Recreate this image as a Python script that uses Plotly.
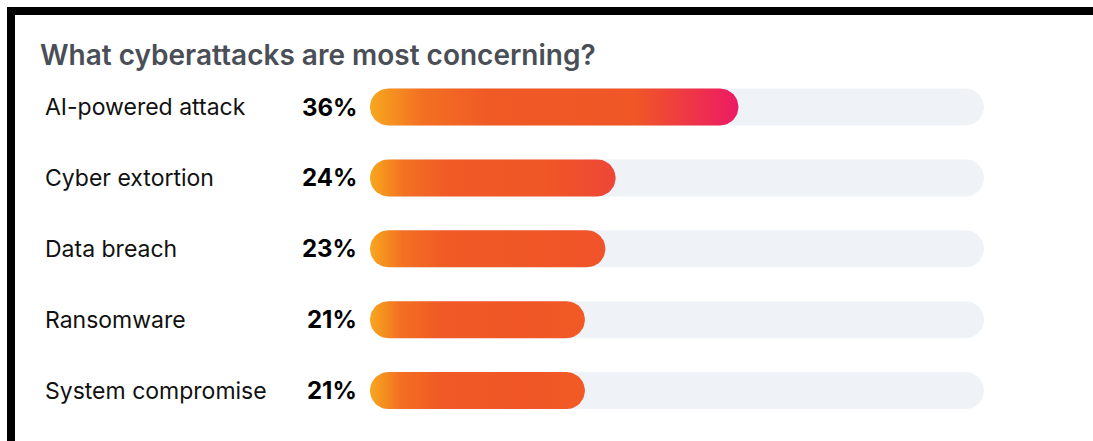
import numpy as np
import plotly.graph_objects as go

# ---- data ----
title_text = "What cyberattacks are most concerning?"
categories = ["AI-powered attack", "Cyber extortion", "Data breach", "Ransomware", "System compromise"]
values = [36, 24, 23, 21, 21]
track_max = 60

# ---- style ----
W, H = 1093, 441
x0_px, x1_px = 370, 984            # pixel span of the track (0 .. track_max)
row0_px, row_step_px = 107, 70.9   # pixel centre of first row, row spacing
bar_h_px = 37
kx = (x1_px - x0_px) / track_max    # px per %
ky = row_step_px                    # px per row
x_range = [-x0_px / kx, (W - x0_px) / kx]
y_range = [(H - row0_px) / ky, -row0_px / ky]

end_colors = ["#ED1A64", "#EE4638", "#F0532A", "#F15A25", "#F15A25"]
track_color = "#EFF2F7"


def pill(v, yc, n=24):
    """pill outline from 0..v (data units) centred on row yc"""
    r = bar_h_px / 2
    rx, ry = r / kx, r / ky
    left_c, right_c = rx, v - rx
    t = np.linspace(-np.pi / 2, np.pi / 2, n)
    xs_r = right_c + rx * np.cos(t)
    ys_r = yc - ry * np.sin(t)
    t2 = np.linspace(np.pi / 2, 3 * np.pi / 2, n)
    xs_l = left_c + rx * np.cos(t2)
    ys_l = yc - ry * np.sin(t2)
    xs = np.concatenate([xs_r, xs_l, xs_r[:1]])
    ys = np.concatenate([ys_r, ys_l, ys_r[:1]])
    return xs, ys


fig = go.Figure()
for i, (cat, v) in enumerate(zip(categories, values)):
    tx, ty = pill(track_max, i)
    fig.add_trace(go.Scatter(x=tx, y=ty, mode="lines", fill="toself",
                             fillcolor=track_color, line=dict(width=0, color=track_color),
                             hoverinfo="skip", showlegend=False))
    bx, by = pill(v, i)
    cs = [[0, "#F8A71E"], [0.14, "#F37022"], [0.32, "#F05A25"],
          [0.72, "#F05626"], [1, end_colors[i]]]
    fig.add_trace(go.Scatter(x=bx, y=by, mode="lines", fill="toself",
                             fillgradient=dict(type="horizontal", colorscale=cs),
                             line=dict(width=0, color="rgba(0,0,0,0)"),
                             hoverinfo="skip", showlegend=False))
    fig.add_annotation(x=43 / W, xref="paper", y=i, yref="y", text=cat,
                       showarrow=False, xanchor="left", yanchor="middle",
                       font=dict(family="Inter", size=23, color="#111111"))
    fig.add_annotation(x=359 / W, xref="paper", y=i, yref="y", text=f"{v}%",
                       showarrow=False, xanchor="right", yanchor="middle",
                       font=dict(family="Inter", size=24, color="#000000", weight=700))

fig.add_annotation(x=38 / W, xref="paper", y=1 - 55 / H, yref="paper", text=title_text,
                   showarrow=False, xanchor="left", yanchor="middle",
                   font=dict(family="Inter", size=28, color="#4A4E56", weight=600))

# black frame (top + left)
fig.add_shape(type="rect", xref="paper", yref="paper", x0=7 / W, x1=1, y0=1 - 15 / H, y1=1 - 7 / H,
              fillcolor="black", line=dict(width=0))
fig.add_shape(type="rect", xref="paper", yref="paper", x0=7 / W, x1=15 / W, y0=0, y1=1 - 7 / H,
              fillcolor="black", line=dict(width=0))

fig.update_layout(
    width=W, height=H, autosize=False,
    margin=dict(l=0, r=0, t=0, b=0),
    paper_bgcolor="white", plot_bgcolor="white",
    xaxis=dict(range=x_range, visible=False, domain=[0, 1], fixedrange=True),
    yaxis=dict(range=y_range, visible=False, domain=[0, 1], fixedrange=True),
    hovermode=False, showlegend=False,
)
fig.write_html("out.html", config={"displayModeBar": False})
